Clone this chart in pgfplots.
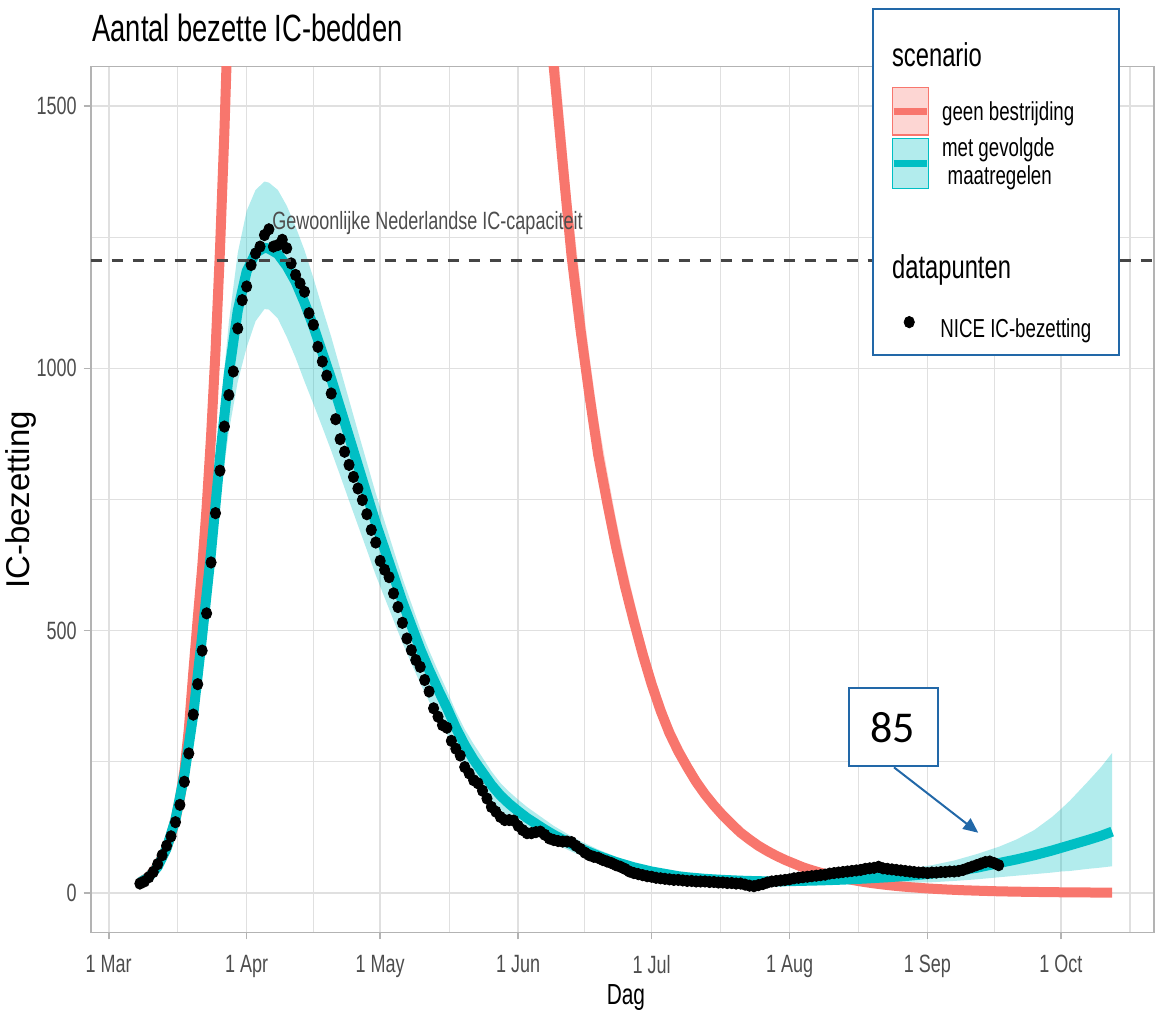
\documentclass[border=0pt]{standalone}
\usepackage{fontspec}
\setmainfont{Liberation Sans}[FakeStretch=0.72]
\newfontfamily\plainsans{Liberation Sans}
\newfontfamily\calib{Carlito}
\usepackage{pgfplots}
\usepackage{pgfplotstable}
\pgfplotsset{compat=1.18}
\usepgfplotslibrary{fillbetween}
\usetikzlibrary{arrows.meta}

\definecolor{gred}{HTML}{F8766D}
\definecolor{gteal}{HTML}{00BFC4}
\definecolor{pblue}{HTML}{2268A8}
\definecolor{gridc}{HTML}{E0E0E0}
\definecolor{bord}{HTML}{B3B3B3}
\definecolor{txt}{HTML}{4D4D4D}
\definecolor{dashc}{HTML}{454545}

\newcommand\ticksize{\fontsize{12.5}{15}\selectfont}
\newcommand\legfont{\fontsize{13}{15}\selectfont}
\newcommand\leghead{\fontsize{16.5}{19}\selectfont}

\pgfplotstableread{
d M U L
7 20 23 17
9 30 34 26
11 50 56 45
13 85 95 76
15 140 155 126
17 225 248 203
19 340 372 308
21 490 535 440
23 650 712 590
25 830 910 752
27 990 1088 880
29 1110 1220 975
31 1185 1300 1040
33 1220 1340 1090
35 1230 1356 1113
36 1228 1354 1112
38 1218 1340 1095
40 1195 1310 1060
42 1165 1270 1020
44 1125 1225 975
46 1080 1172 932
48 1030 1115 888
50 980 1060 843
52 925 1000 796
54 870 940 748
56 815 880 701
58 760 821 654
60 705 762 606
62 655 708 563
64 605 654 520
66 555 600 477
68 510 552 438
70 465 504 400
72 425 462 365
74 388 423 333
76 353 386 303
78 315 346 272
80 282 312 243
82 254 284 217
84 230 258 196
86 206 232 176
88 186 210 159
90 170 193 145
92 156 178 133
94 143 164 122
96 132 152 112
98 121 140 103
100 111 128 94
102 102 118 87
104 93 108 79
106 85 99 72
108 78 91 66
110 71 83 60
112 65 76 55
114 59 69 50
116 54 63 46
118 49 58 41
120 45 53 38
122 41 49 34
124 38 45 31
126 35 42 29
128 32 39 27
130 30 37 25
134 27 34 22
138 25 32 20
142 23.5 31 19
146 22.5 30 18
150 22 30 17
155 23 31 17
160 24 33 17
165 25.5 36 17.5
170 27.5 39 18
175 30 43 19
180 33 47 19.5
185 37 53 20.5
190 42 62 23
195 48 74 26
200 57 88 30
204 64 102 33
208 72 120 36
212 81 145 39
214 86 160 41
216 91 176 42
220 101 212 46
223 109 240 48.5
225.5 117 267 51
}\tealtab

\pgfplotstableread{
d R
7 20
9 31
11 52
13 86
14 110
15 140
16 180
17 232
18 312
19 420
20 523
21 620
22 735
23 871
24 1033
25 1225
26 1452
27 1722
28 2041
40 4000
70 5000
92 2700
94 2350
96 2019
98 1775
100 1575
102 1392
104 1215
106 1075
108 950
110 835
112 745
114 660
116 585
118 518
120 455
122 398
124 348
126 305
128 270
130 240
132 212
134 188
136 167
138 148
140 131
142 115
144 102
146 90
148 80
150 71
152 63
154 56
156 49
158 43.5
160 38.5
162 34
164 30
166 26.6
168 23.5
170 20.7
172 18.3
174 16.2
176 14.3
178 12.6
180 11.2
184 8.7
188 6.8
192 5.3
196 4.2
200 3.2
205 2.4
210 1.8
215 1.3
220 1.0
225.5 0.7
}\redtab

\pgfplotstableread{
d RU RL
96 2181 1958
98 1917 1722
100 1701 1528
102 1503 1350
104 1312 1179
106 1161 1043
108 1026 922
110 902 810
112 805 723
114 713 640
116 632 567
118 559 502
120 491 441
122 430 386
124 376 338
126 329 296
128 292 262
130 259 233
132 229 206
134 203 182
136 180 162
138 160 144
140 141 127
142 124 112
144 110 99
146 97 87
148 86 78
150 77 69
152 68 61
154 60 54
156 53 48
158 47 42
160 41.6 37.3
162 36.7 33
164 32.4 29.1
166 28.7 25.8
168 25.4 22.8
170 22.4 20.1
172 19.8 17.8
174 17.5 15.7
176 15.4 13.9
178 13.6 12.2
180 12.1 10.9
184 9.4 8.4
188 7.3 6.6
192 5.7 5.1
196 4.5 4.1
200 3.5 3.1
205 2.6 2.3
210 1.9 1.7
215 1.4 1.3
220 1.1 1.0
225.5 0.8 0.7
}\redrib

\pgfplotstableread{
d v
7 18
8 22
9 30
10 40
11 55
12 72
13 90
14 108
15 135
16 168
17 212
18 266
19 340
20 398
21 462
22 533
23 630
24 724
25 805
26 889
27 949
28 994
29 1076
30 1130
31 1156
32 1197
33 1219
34 1232
35 1254
36 1265
37 1232
38 1235
39 1245
40 1229
41 1200
42 1178
43 1162
44 1146
45 1105
46 1083
47 1041
48 1013
49 986
50 952
51 903
52 865
53 841
54 816
55 793
56 771
57 749
58 722
59 692
60 668
61 633
62 616
63 602
64 571
65 545
66 515
67 485
68 463
69 444
70 431
71 406
72 384
73 352
74 336
75 320
76 315
77 290
78 275
79 262
80 240
81 228
82 215
83 209
84 195
85 180
86 164
87 155
88 145
89 139
90 139
91 138
92 128
93 120
94 114
95 114
96 116
97 117
98 111
99 104
100 101
101 99
102 98
103 98
104 97
105 90
106 84
107 77
108 72
109 69
110 67
111 63
112 60
113 57
114 53
115 50
116 46
117 41
118 38
119 36
120 34
121 32
122 31
123 29
124 28
125 27
126 26
127 25
128 25
129 24
130 23
131 23
132 22
133 22
134 22
135 21
136 21
137 20
138 20
139 19
140 19
141 18
142 18
143 16
144 14
145 13
146 15
147 17
148 20
149 22
150 23
151 24
152 25
153 26
154 28
155 29
156 30
157 31
158 32
159 33
160 34
161 35
162 37
163 38
164 39
165 40
166 41
167 42
168 43
169 44
170 46
171 47
172 48
173 50
174 47
175 46
176 45
177 44
178 43
179 42
180 41
181 40
182 39
183 39
184 38
185 39
186 39
187 40
188 40
189 41
190 41
191 42
192 44
193 47
194 50
195 53
196 56
197 59
198 60
199 57
200 53
}\nicetab

\begin{document}
\begin{tikzpicture}
\begin{axis}[
  at={(0pt,0pt)}, anchor=south west,
  scale only axis, width=531.65pt, height=432.85pt,
  xmin=-4.05, xmax=234.9, ymin=-75, ymax=1575,
  clip mode=individual,
  axis line style={draw=bord, line width=0.8pt},
  xtick={0,31,61,92,122,153,184,214},
  xticklabels={1 Mar,1 Apr,1 May,1 Jun,1 Jul,1 Aug,1 Sep,1 Oct},
  minor xtick={15.5,46,76.5,107,137.5,168.5,199,229.5},
  ytick={0,500,1000,1500},
  minor ytick={250,750,1250},
  grid=both,
  major grid style={draw=gridc, line width=0.8pt},
  minor grid style={draw=gridc, line width=0.55pt},
  tick align=outside,
  xtick pos=bottom, ytick pos=left,
  major tick length=3.5pt, minor tick length=0pt,
  tick style={draw=bord, line width=0.8pt},
  ticklabel style={font=\ticksize, text=txt},
  xticklabel style={yshift=-4.5pt},
  /pgf/number format/assume math mode=true,
  /pgf/number format/1000 sep={},
  legend style={at={(axis description cs:0.7650,0.6975)}, anchor=west,
    draw=none, fill=none, inner sep=0pt, outer sep=0pt, font=\legfont,
    nodes={inner sep=0pt, text=black},
    /tikz/every odd column/.append style={column sep=13pt}},
  legend image code/.code={\draw[#1] plot coordinates {(0pt,3.8pt)};},
]
\addplot[name path=tU, draw=none, forget plot] table[x=d,y=U]{\tealtab};
\addplot[name path=tL, draw=none, forget plot] table[x=d,y=L]{\tealtab};
\addplot[fill=gteal, fill opacity=0.3, draw=none, forget plot] fill between[of=tU and tL];
\addplot[name path=rU, draw=none, forget plot] table[x=d,y=RU]{\redrib};
\addplot[name path=rL, draw=none, forget plot] table[x=d,y=RL]{\redrib};
\addplot[fill=gred, fill opacity=0.3, draw=none, forget plot] fill between[of=rU and rL];
\addplot[gred, line width=5pt, line join=round, forget plot] table[x=d,y=R]{\redtab};
\addplot[gteal, line width=5pt, line join=round, forget plot] table[x=d,y=M]{\tealtab};
\addplot[only marks, mark=*, mark size=2.85pt, mark options={xscale=0.9, fill=black, draw=none}] table[x=d,y=v]{\nicetab};
\addlegendentry{NICE IC-bezetting}
\addplot[dashc, line width=1.5pt, dash pattern=on 5.8pt off 4.7pt, forget plot] coordinates {(-4.05,1206) (234.9,1206)};
\node[anchor=base west, inner sep=0pt, font=\ticksize, text=txt] at (axis cs:36.7,1264) {Gewoonlijke Nederlandse IC-capaciteit};
% legend box (drawn below the pgfplots legend entry)
\draw[fill=white, draw=pblue, line width=1pt] (axis description cs:0.73545,0.66697) rectangle (axis description cs:0.96708,1.06619);
\node[anchor=base west, inner sep=0pt, font=\leghead] at (axis description cs:0.75331,0.99988) {scenario};
\draw[fill=gred!30, draw=gred, line width=0.75pt] (axis description cs:0.75388,0.92110) rectangle (axis description cs:0.78774,0.97563);
\draw[gred, line width=3.6pt] (axis description cs:0.75520,0.94790) -- (axis description cs:0.78642,0.94790);
\draw[fill=gteal!30, draw=gteal, line width=0.75pt] (axis description cs:0.75388,0.85942) rectangle (axis description cs:0.78774,0.91718);
\draw[gteal, line width=3.6pt] (axis description cs:0.75520,0.88830) -- (axis description cs:0.78642,0.88830);
\node[anchor=base west, inner sep=0pt, font=\legfont] at (axis description cs:0.80034,0.93751) {geen bestrijding};
\node[anchor=base west, inner sep=0pt, font=\legfont] at (axis description cs:0.80034,0.89592) {met gevolgde};
\node[anchor=base west, inner sep=0pt, font=\legfont] at (axis description cs:0.80561,0.86335) {maatregelen};
\node[anchor=base west, inner sep=0pt, font=\leghead] at (axis description cs:0.75331,0.75546) {datapunten};
\end{axis}
% titles
\node[anchor=base west, inner sep=0pt, font=\fontsize{19}{22}\selectfont] at (0.65pt,445.2pt) {Aantal bezette IC-bedden};
\node[anchor=base, inner sep=0pt, font=\fontsize{14.5}{17}\selectfont] at (267.6pt,-36pt) {Dag};
\node[rotate=90, anchor=center, inner sep=0pt, font=\plainsans\fontsize{16.5}{19}\selectfont] at (-34.85pt,216.2pt) {IC-bezetting};
% annotation box
\draw[fill=white, draw=pblue, line width=1pt] (379.3pt,83.2pt) rectangle (423.8pt,122.0pt);
\node[anchor=center, inner sep=0pt, font=\calib\fontsize{22}{26}\selectfont] at (401pt,102.5pt) {85};
\draw[pblue, line width=1pt, -{Triangle[length=7.5pt, width=6.5pt]}] (401.65pt,82.5pt) -- (443.8pt,49.8pt);
\path (-45.35pt,-40.33pt) rectangle (533.65pt,466.18pt);
\end{tikzpicture}
\end{document}
